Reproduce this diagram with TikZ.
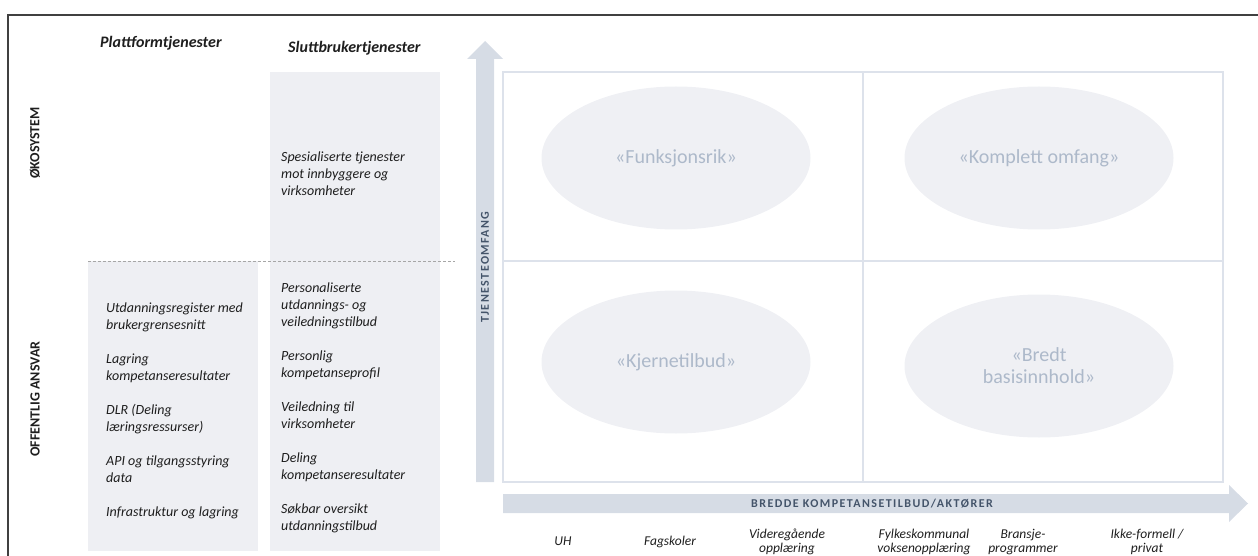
\documentclass[tikz,border=0pt]{standalone}
\usepackage{fontspec}
\setmainfont{Carlito}
\newfontfamily\spacedfont[LetterSpace=12]{Carlito}
\usetikzlibrary{positioning}
\usetikzlibrary{shapes.geometric}

\definecolor{boxgray}{RGB}{238,239,243}
\definecolor{arrowblue}{RGB}{214,220,229}
\definecolor{gridblue}{RGB}{221,226,235}
\definecolor{ovalfill}{RGB}{239,240,244}
\definecolor{ovaltext}{RGB}{173,185,202}
\definecolor{axistext}{RGB}{68,84,106}
\definecolor{inktext}{RGB}{30,30,30}
\definecolor{framegray}{RGB}{64,64,64}

\begin{document}
\begin{tikzpicture}
	[
	x=1pt, y=-1pt,
  every node/.style={inner sep=0pt, text=inktext},
  colhead/.style={font=\fontsize{16}{18}\selectfont\bfseries\itshape, anchor=west},
  rowhead/.style={font=\fontsize{14}{16}\selectfont\bfseries, rotate=90},
  item/.style={font=\fontsize{14}{17}\selectfont\itshape, anchor=north west, align=left},
  quad/.style={ellipse, fill=ovalfill, minimum width=269, minimum height=143, text=ovaltext, font=\fontsize{20}{22}\selectfont, align=center},
  actor/.style={font=\fontsize{13.5}{14}\selectfont\itshape, align=center},
  axislabel/.style={font=\spacedfont\fontsize{12}{14}\selectfont\bfseries, text=axistext},
  gridline/.style={draw=gridblue, line width=1.5pt},
  bigarrow/.style={fill=arrowblue}
  ]
	\useasboundingbox (0,0) rectangle (1258,556);

	% frame (only top and left edge visible)
	\draw[framegray, line width=1.5pt] (8,556) -- (8,15) -- (1258,15);

	% columns
	\fill[boxgray] (88,261) rectangle (258,551);
	\fill[boxgray] (270,72) rectangle (440,551);
	\draw[gray!70, dash pattern=on 3pt off 2pt] (88,261) -- (455,261);

	\node[colhead] (platt) at (100,43) {Plattformtjenester};
	\node[colhead] (slutt) at (288,48) {Sluttbrukertjenester};

	\node[rowhead] (okosys) at (35,143) {ØKOSYSTEM};
	\node[rowhead] (offentlig) at (35,399) {OFFENTLIG ANSVAR};

	\node[item] (spes) at (281,149) {\strut Spesialiserte tjenester\\mot innbyggere og\\virksomheter};

	\node[item] (reg)     at (106,300) {\strut Utdanningsregister med\\brukergrensesnitt};
	\node[item] (lagring) at (106,351) {\strut Lagring\\kompetanseresultater};
	\node[item] (dlr)     at (106,402) {\strut DLR (Deling\\læringsressurser)};
	\node[item] (api)     at (106,453) {\strut API og tilgangsstyring\\data};
	\node[item] (infra)   at (106,504) {\strut Infrastruktur og lagring};

	\node[item] (pers)   at (281,280) {\strut Personaliserte\\utdannings- og\\veiledningstilbud};
	\node[item] (profil) at (281,348) {\strut Personlig\\kompetanseprofil};
	\node[item] (veil)   at (281,399) {\strut Veiledning til\\virksomheter};
	\node[item] (deling) at (281,450) {\strut Deling\\kompetanseresultater};
	\node[item] (sokbar) at (281,501) {\strut Søkbar oversikt\\utdanningstilbud};

	% axes
	\fill[bigarrow] (476,482) -- (476,59) -- (467,59) -- (485,41) -- (503,59) -- (494,59) -- (494,482) -- cycle;
	\fill[bigarrow] (503,494) -- (1229,494) -- (1229,485) -- (1248,503.5) -- (1229,522) -- (1229,513) -- (503,513) -- cycle;
	\node[axislabel, rotate=90] (tjeneste) at (485,267) {TJENESTEOMFANG};
	\node[axislabel] (bredde) at (872,504) {BREDDE KOMPETANSETILBUD/AKTØRER};

	% quadrants
	\draw[gridline] (503,72) rectangle (1223,482);
	\draw[gridline] (863,72) -- (863,482);
	\draw[gridline] (503,261) -- (1223,261);

	\node[quad] (funk)     at (676,158) {«Funksjonsrik»};
	\node[quad] (komplett) at (1039,158) {«Komplett omfang»};
	\node[quad] (kjerne)   at (676,362) {«Kjernetilbud»};
	\node[quad] (bredt)    at (1039,366) {«Bredt\\basisinnhold»};

	\node[actor] (uh)      at (563,541) {UH};
	\node[actor] (fag)     at (670,542) {Fagskoler};
	\node[actor] (vgo)     at (787,542) {Videregående\\opplæring};
	\node[actor] (fylke)   at (924,542) {Fylkeskommunal\\voksenopplæring};
	\node[actor] (bransje) at (1023,542) {Bransje-\\programmer};
	\node[actor] (ikke)    at (1147,542) {Ikke-formell /\\privat};

\end{tikzpicture}
\end{document}
